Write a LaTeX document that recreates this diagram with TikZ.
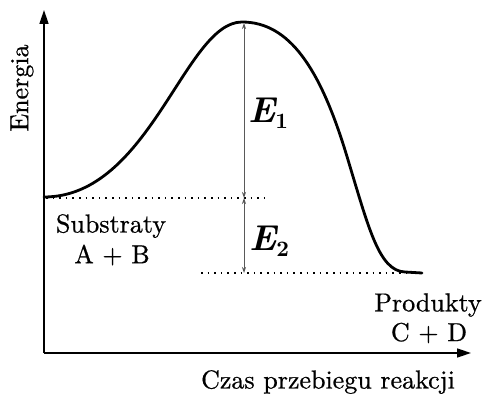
\documentclass[tikz,border=0pt]{standalone}
\usepackage{fontspec}
\newfontface\lblfont{lmroman10-regular.otf}[FakeBold=0.7]
\newfontface\elblfont{lmroman10-bolditalic.otf}
\newfontface\esubfont{lmroman10-bold.otf}
\usetikzlibrary{arrows.meta}
\tikzset{
  lbl/.style={font=\fontsize{26}{30}\lblfont, inner sep=0pt},
  elbl/.style={font=\fontsize{36}{40}\elblfont, inner sep=0pt},
  dotline/.style={line width=1.6pt, dash pattern=on 1.6pt off 5pt},
  gap/.style={<->, gray!70!black, line width=0.8pt, >={Stealth[length=6pt,width=4pt]}}
}
\newcommand{\esub}[1]{\raisebox{-6pt}{\fontsize{22}{24}\esubfont #1}}
\begin{document}
\begin{tikzpicture}[x=1pt,y=-1pt,>={Triangle[length=14pt,width=9pt]}]
        \useasboundingbox (0,0) rectangle (487,398);
        % axes
        \coordinate (origin) at (44,353);
        \coordinate (ytip) at (44,10);
        \coordinate (xtip) at (471,353);
        \draw[->, line width=1.6pt] (origin) -- (ytip);
        \draw[->, line width=1.6pt] (origin) -- (xtip);

        % energy levels
        \coordinate (peak) at (244,23);
        \coordinate (subs) at (244,198);
        \coordinate (prod) at (244,273);
        \coordinate (subsL) at (46,198);
        \coordinate (subsR) at (267,198);
        \coordinate (prodL) at (201,273);
        \coordinate (prodR) at (424,273);
        \draw[dotline] (subsL) -- (subsR);
        \draw[dotline] (prodL) -- (prodR);

        % reaction curve
        \draw[line width=2.8pt, line cap=round]
          (44,197) .. controls (150,197) and (185,22) .. (242,22)
          .. controls (290,22) and (320,70) .. (345,150)
          .. controls (368,225) and (378,271) .. (405,272) -- (422,273);

        \draw[gap] (peak) -- (subs);
        \draw[gap] (subs) -- (prod);

        \node (e1) [elbl] at (268,113) {E\esub{1}};
        \node (e2) [elbl] at (269,241) {E\esub{2}};
        \node (energia) [lbl, rotate=90] at (22,88) {Energia};
        \node (substraty) [lbl] at (111,226) {Substraty};
        \node (ab) [lbl] at (112,255) {A + B};
        \node (produkty) [lbl] at (428,305) {Produkty};
        \node (cd) [lbl] at (429,333) {C + D};
        \node (czas) [lbl] at (328,382) {Czas przebiegu reakcji};
    \end{tikzpicture}
\end{document}
